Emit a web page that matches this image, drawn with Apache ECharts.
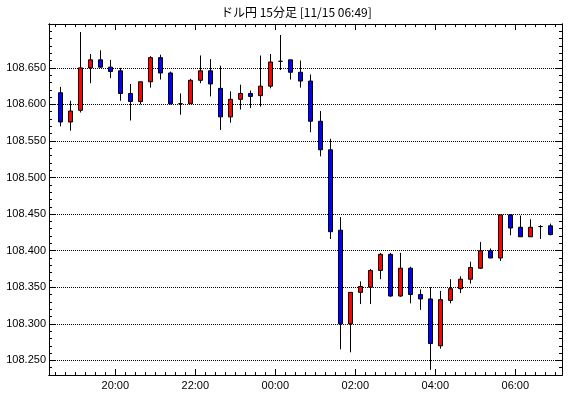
<!DOCTYPE html>
<html>
<head>
<meta charset="utf-8">
<script src="https://cdn.jsdelivr.net/npm/echarts@6/dist/echarts.min.js"></script>
<style>
html, body { margin: 0; padding: 0; background: #fff; }
#main { width: 570px; height: 398px; }
</style>
</head>
<body>
<div id="main"></div>
<script>
// 15分足 (各足の開始時刻)
var times = ['18:30','18:45','19:00','19:15','19:30','19:45','20:00','20:15','20:30','20:45',
             '21:00','21:15','21:30','21:45','22:00','22:15','22:30','22:45','23:00','23:15',
             '23:30','23:45','00:00','00:15','00:30','00:45','01:00','01:15','01:30','01:45',
             '02:00','02:15','02:30','02:45','03:00','03:15','03:30','03:45','04:00','04:15',
             '04:30','04:45','05:00','05:15','05:30','05:45','06:00','06:15','06:30','06:45'];
var opens = [108.616,108.576,108.592,108.650,108.661,108.651,108.646,108.615,108.604,108.631,
             108.664,108.643,108.601,108.601,108.633,108.646,108.622,108.583,108.607,108.615,
             108.612,108.625,108.659,108.661,108.644,108.632,108.577,108.538,108.428,108.300,
             108.343,108.350,108.373,108.395,108.338,108.376,108.340,108.334,108.270,108.332,
             108.348,108.361,108.376,108.400,108.390,108.449,108.432,108.419,108.433,108.434];
var closes = [108.576,108.591,108.650,108.661,108.651,108.645,108.615,108.604,108.631,108.664,
              108.643,108.601,108.601,108.633,108.646,108.628,108.583,108.607,108.615,108.611,
              108.625,108.658,108.659,108.644,108.632,108.577,108.538,108.426,108.300,108.343,
              108.351,108.373,108.395,108.338,108.376,108.340,108.334,108.273,108.333,108.348,
              108.361,108.377,108.400,108.390,108.449,108.431,108.419,108.432,108.433,108.422];
var lows = [108.570,108.564,108.589,108.629,108.650,108.636,108.605,108.578,108.600,108.623,
            108.634,108.600,108.586,108.601,108.629,108.611,108.565,108.575,108.593,108.595,
            108.597,108.622,108.647,108.634,108.623,108.562,108.529,108.416,108.265,108.261,
            108.327,108.327,108.361,108.337,108.337,108.328,108.319,108.237,108.266,108.328,
            108.342,108.355,108.375,108.390,108.386,108.421,108.419,108.419,108.416,108.421];
var highs = [108.624,108.605,108.699,108.669,108.674,108.661,108.650,108.628,108.631,108.666,
             108.668,108.645,108.615,108.635,108.667,108.662,108.653,108.618,108.627,108.619,
             108.667,108.669,108.695,108.661,108.660,108.641,108.591,108.553,108.446,108.343,
             108.358,108.375,108.397,108.397,108.397,108.378,108.347,108.350,108.345,108.361,
             108.365,108.385,108.412,108.403,108.449,108.450,108.448,108.443,108.435,108.437];

var xLabels = ['20:00','22:00','00:00','02:00','04:00','06:00'];
var yLabels = ['108.250','108.300','108.350','108.400','108.450','108.500','108.550','108.600','108.650'];

// 18:00 からの分
function toMin(s) {
    var p = s.split(':');
    var m = (+p[0]) * 60 + (+p[1]) - 18 * 60;
    if (m < 0) m += 1440;
    return m;
}

var xMin = 20.5, xMax = 790;
var yMin = 108.23, yMax = 108.71;

var candles = times.map(function (t, i) {
    return [toMin(t) + 7.5, opens[i], closes[i], lows[i], highs[i]];
});

var xMajor = xLabels.map(toMin);
var xMinor = [];
for (var m = 30; m < xMax; m += 15) xMinor.push(m);
var yMajor = yLabels.map(Number);
var yMinor = [];
for (var k = 24; k <= 70; k++) yMinor.push(+(108 + k / 100).toFixed(2));

function fmtTime(v) {
    var m = Math.round(v) + 18 * 60;
    var h = Math.floor(m / 60) % 24;
    var mm = m % 60;
    return (h < 10 ? '0' : '') + h + ':' + (mm < 10 ? '0' : '') + mm;
}

var line = { show: true, onZero: false, lineStyle: { color: '#000', width: 1 } };

function xAx(pos, vals, len, label) {
    return {
        type: 'value', position: pos, min: xMin, max: xMax,
        axisLine: line,
        axisTick: { show: true, inside: true, length: len, customValues: vals, lineStyle: { color: '#000' } },
        axisLabel: label ? {
            show: true, customValues: vals, margin: 5, color: '#000',
            fontFamily: 'Liberation Sans', fontSize: 11, formatter: fmtTime
        } : { show: false },
        splitLine: { show: false }
    };
}
function yAx(pos, vals, len, label) {
    return {
        type: 'value', position: pos, min: yMin, max: yMax,
        axisLine: line,
        axisTick: { show: true, inside: true, length: len, customValues: vals, lineStyle: { color: '#000' } },
        axisLabel: label ? {
            show: true, customValues: vals, margin: 3, color: '#000',
            fontFamily: 'Liberation Sans', fontSize: 11,
            formatter: function (v) { return v.toFixed(3); }
        } : { show: false },
        splitLine: label ? { show: true, lineStyle: { color: '#000', type: 'dotted', width: 1 } } : { show: false }
    };
}

var chart = echarts.init(document.getElementById('main'));
chart.setOption({
    animation: false,
    backgroundColor: '#fff',
    title: {
        text: 'ドル円 15分足 [11/15 06:49]',
        left: 221, top: 6, padding: 0,
        textStyle: { fontFamily: 'Noto Sans CJK JP', fontSize: 12, fontWeight: 'normal', color: '#000' }
    },
    grid: { left: 49, right: 8, top: 24, bottom: 23, containLabel: false, outerBoundsMode: 'none' },
    xAxis: [
        xAx('bottom', xMajor, 6, true),
        xAx('bottom', xMinor, 3, false),
        xAx('top', xMajor, 6, false),
        xAx('top', xMinor, 3, false)
    ],
    yAxis: [
        yAx('left', yMajor, 6, true),
        yAx('left', yMinor, 3, false),
        yAx('right', yMajor, 6, false),
        yAx('right', yMinor, 3, false)
    ],
    series: [{
        type: 'candlestick',
        xAxisIndex: 0, yAxisIndex: 0,
        barWidth: 5,
        encode: { x: 0, y: [1, 2, 3, 4] },
        itemStyle: {
            color: '#ff0000', color0: '#0000ff',
            borderColor: '#000', borderColor0: '#000', borderColorDoji: '#000',
            borderWidth: 1
        },
        data: candles
    }]
});
</script>
</body>
</html>
